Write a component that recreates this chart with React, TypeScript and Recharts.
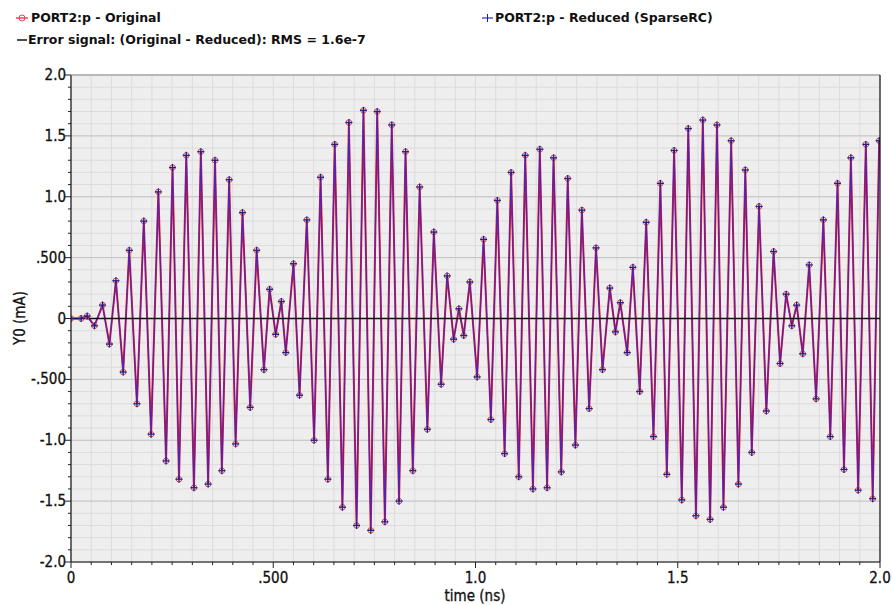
import { LineChart, Line, XAxis, YAxis, CartesianGrid, ReferenceLine } from 'recharts';

// sample times (ns), read at each peak / trough of the trace
const times = [
  0, 0.025, 0.04, 0.058, 0.078, 0.095, 0.111, 0.129, 0.144, 0.163, 0.18, 0.198, 0.216, 0.235,
  0.251, 0.267, 0.285, 0.304, 0.321, 0.339, 0.356, 0.373, 0.391, 0.407, 0.424, 0.443, 0.459,
  0.477, 0.491, 0.506, 0.52, 0.531, 0.55, 0.565, 0.583, 0.601, 0.617, 0.635, 0.652, 0.671,
  0.687, 0.706, 0.723, 0.741, 0.757, 0.776, 0.793, 0.811, 0.827, 0.845, 0.862, 0.881, 0.897,
  0.915, 0.93, 0.946, 0.959, 0.971, 0.986, 1.004, 1.02, 1.038, 1.054, 1.072, 1.088, 1.107,
  1.123, 1.142, 1.159, 1.177, 1.193, 1.212, 1.228, 1.247, 1.263, 1.281, 1.298, 1.314, 1.332,
  1.346, 1.358, 1.375, 1.389, 1.406, 1.422, 1.44, 1.457, 1.473, 1.491, 1.51, 1.526, 1.545,
  1.562, 1.58, 1.597, 1.613, 1.632, 1.65, 1.667, 1.683, 1.701, 1.719, 1.737, 1.753, 1.768,
  1.782, 1.794, 1.809, 1.825, 1.842, 1.86, 1.877, 1.895, 1.911, 1.928, 1.946, 1.965, 1.982, 1.998,
];

// PORT2:p original (mA)
const original = [
  0, 0, 0.02, -0.06, 0.11, -0.21, 0.31, -0.44, 0.56, -0.7, 0.8, -0.95, 1.04, -1.17,
  1.24, -1.32, 1.34, -1.39, 1.37, -1.36, 1.3, -1.25, 1.14, -1.03, 0.87, -0.73, 0.56,
  -0.42, 0.24, -0.13, 0.14, -0.28, 0.45, -0.63, 0.81, -1.0, 1.16, -1.32, 1.43, -1.55,
  1.61, -1.7, 1.71, -1.74, 1.7, -1.67, 1.59, -1.5, 1.37, -1.25, 1.08, -0.91, 0.71,
  -0.54, 0.35, -0.17, 0.08, -0.14, 0.3, -0.48, 0.65, -0.83, 0.97, -1.11, 1.2, -1.3,
  1.34, -1.4, 1.39, -1.39, 1.32, -1.26, 1.15, -1.04, 0.89, -0.74, 0.58, -0.42, 0.25,
  -0.11, 0.13, -0.28, 0.42, -0.6, 0.79, -0.97, 1.11, -1.28, 1.38, -1.49, 1.56, -1.62,
  1.63, -1.65, 1.59, -1.55, 1.46, -1.36, 1.22, -1.1, 0.92, -0.76, 0.55, -0.37, 0.2,
  -0.06, 0.11, -0.29, 0.44, -0.66, 0.81, -0.97, 1.11, -1.24, 1.32, -1.41, 1.43, -1.48, 1.46,
];

// PORT2:p reduced (SparseRC) - same as original to the resolution of the plot
const reduced = [...original];

// error signal, original - reduced
const errorTimes = [0, 2];
const errorValues = [0, 0];

const xTicks = [0, 0.5, 1, 1.5, 2];
const xTickLabels = ['0', '.500', '1.0', '1.5', '2.0'];
const yTicks = [-2, -1.5, -1, -0.5, 0, 0.5, 1, 1.5, 2];
const yTickLabels = ['-2.0', '-1.5', '-1.0', '-.500', '0', '.500', '1.0', '1.5', '2.0'];

const xMinor: number[] = [];
for (let i = 0; i <= 40; i++) xMinor.push(Math.round(i * 5) / 100);
const yMinor: number[] = [];
for (let i = -20; i <= 20; i++) yMinor.push(i / 10);

const data = times.map((t, i) => ({ t, orig: original[i], red: reduced[i] }));
const errData = errorTimes.map((t, i) => ({ t, err: errorValues[i] }));

const FONT = '"DejaVu Sans Condensed", "DejaVu Sans", sans-serif';
const RED = '#f01818';
const BLUE = '#2828e0';

const YTick = (props: any) => {
  const { x, y, payload } = props;
  const v = payload.value;
  const idx = yTicks.findIndex((m) => Math.abs(m - v) < 1e-6);
  const major = idx >= 0;
  return (
    <g>
      <line x1={x} x2={x - (major ? 6 : 3)} y1={y} y2={y} stroke="#222" strokeWidth={1} />
      {major && (
        <text x={x - 5} y={y + 5} textAnchor="end" fontSize={15} fontFamily={FONT} fill="#111" stroke="#111" strokeWidth={0.3}>
          {yTickLabels[idx]}
        </text>
      )}
    </g>
  );
};

const XTick = (props: any) => {
  const { x, y, payload } = props;
  const v = payload.value;
  const idx = xTicks.findIndex((m) => Math.abs(m - v) < 1e-6);
  const major = idx >= 0;
  return (
    <g>
      <line x1={x} x2={x} y1={y} y2={y + (major ? 6 : 3)} stroke="#222" strokeWidth={1} />
      {major && (
        <text x={x} y={y + 21} textAnchor="middle" fontSize={15} fontFamily={FONT} fill="#111" stroke="#111" strokeWidth={0.3}>
          {xTickLabels[idx]}
        </text>
      )}
    </g>
  );
};

const Circle = (props: any) => {
  const { cx, cy, key } = props;
  if (cx == null || cy == null) return <g key={key} />;
  return <circle key={key} cx={cx} cy={cy} r={2.8} fill="none" stroke="#d04a5a" strokeWidth={1} />;
};

const Plus = (props: any) => {
  const { cx, cy, key } = props;
  if (cx == null || cy == null) return <g key={key} />;
  return (
    <g key={key}>
      <line x1={cx - 3.5} x2={cx + 3.5} y1={cy} y2={cy} stroke="#20208a" strokeWidth={1.3} />
      <line x1={cx} x2={cx} y1={cy - 3.5} y2={cy + 3.5} stroke="#20208a" strokeWidth={1.3} />
    </g>
  );
};

const legendText: React.CSSProperties = {
  position: 'absolute',
  fontFamily: '"DejaVu Sans", sans-serif',
  fontWeight: 'bold',
  fontSize: 12.5,
  color: '#111',
  whiteSpace: 'nowrap',
};

const axisTitle: React.CSSProperties = {
  position: 'absolute',
  fontFamily: FONT,
  fontSize: 15,
  color: '#111',
  whiteSpace: 'nowrap',
  WebkitTextStroke: '0.3px #111',
};

export default function App() {
  return (
    <div style={{ position: 'absolute', left: 0, top: 0, width: 893, height: 605, background: '#fff', overflow: 'hidden' }}>
      <svg style={{ position: 'absolute', left: 0, top: 0 }} width={893} height={50}>
        <line x1={16} x2={28} y1={18} y2={18} stroke={RED} strokeWidth={1.2} />
        <circle cx={22} cy={18} r={3} fill="none" stroke="#d04a5a" strokeWidth={1} />
        <line x1={482} x2={493} y1={18} y2={18} stroke={BLUE} strokeWidth={1.2} />
        <line x1={487.5} x2={487.5} y1={14} y2={22} stroke="#20208a" strokeWidth={1} />
        <line x1={17} x2={27} y1={40} y2={40} stroke="#111" strokeWidth={1.5} />
      </svg>
      <div style={{ ...legendText, left: 31, top: 10 }}>PORT2:p - Original</div>
      <div style={{ ...legendText, left: 495, top: 10 }}>PORT2:p - Reduced (SparseRC)</div>
      <div style={{ ...legendText, left: 28, top: 32 }}>Error signal: (Original - Reduced): RMS = 1.6e-7</div>

      <div style={{ position: 'absolute', left: 0, top: 0 }}>
        <LineChart width={893} height={605} margin={{ top: 75, right: 13, bottom: 0, left: 0 }}>
          <CartesianGrid stroke="#dcdcdc" strokeWidth={1} fill="#eeeeee" />
          {yTicks.map((v) => (
            <ReferenceLine key={v} y={v} stroke="#c4c4c4" strokeWidth={1} />
          ))}
          <XAxis
            dataKey="t"
            type="number"
            domain={[0, 2]}
            ticks={xMinor}
            interval={0}
            tick={<XTick />}
            tickSize={0}
            tickMargin={0}
            tickLine={false}
            axisLine={{ stroke: '#111', strokeWidth: 1.2 }}
            height={43}
            allowDataOverflow
          />
          <YAxis
            type="number"
            domain={[-2, 2]}
            ticks={yMinor}
            interval={0}
            tick={<YTick />}
            tickSize={0}
            tickMargin={0}
            tickLine={false}
            axisLine={{ stroke: '#111', strokeWidth: 1.2 }}
            width={71}
            allowDataOverflow
          />
          <Line
            data={data}
            dataKey="orig"
            type="linear"
            stroke={RED}
            strokeWidth={2}
            dot={<Circle />}
            activeDot={false}
            isAnimationActive={false}
          />
          <Line
            data={data}
            dataKey="red"
            type="linear"
            stroke={BLUE}
            strokeWidth={1.1}
            strokeOpacity={0.85}
            dot={<Plus />}
            activeDot={false}
            isAnimationActive={false}
          />
          <Line
            data={errData}
            dataKey="err"
            type="linear"
            stroke="#111"
            strokeWidth={1.5}
            dot={false}
            activeDot={false}
            isAnimationActive={false}
          />
        </LineChart>
      </div>
      <svg style={{ position: 'absolute', left: 0, top: 0, pointerEvents: 'none' }} width={893} height={605}>
        <line x1={71} x2={880} y1={75} y2={75} stroke="#999" strokeWidth={1.2} />
        <line x1={880} x2={880} y1={75} y2={562} stroke="#111" strokeWidth={1.2} />
      </svg>
      <div style={{ ...axisTitle, left: 475, top: 587, transform: 'translateX(-50%)' }}>time (ns)</div>
      <div style={{ ...axisTitle, left: 20, top: 318, transform: 'translate(-50%, -50%) rotate(-90deg)' }}>Y0 (mA)</div>
    </div>
  );
}
